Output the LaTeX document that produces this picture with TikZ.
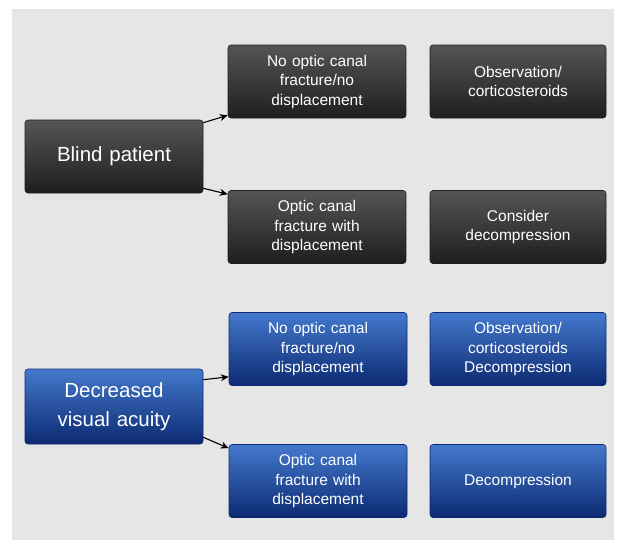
\documentclass[tikz,border=0pt]{standalone}
\usepackage{fontspec}
\setmainfont{Liberation Sans}
\usetikzlibrary{arrows.meta}
\definecolor{bg}{HTML}{E6E6E6}
\definecolor{dtop}{HTML}{555555}
\definecolor{dbot}{HTML}{1E1E1E}
\definecolor{btop}{HTML}{4479CC}
\definecolor{bbot}{HTML}{0C2A72}
\tikzset{
  box/.style={rounded corners=3pt, minimum width=178pt, minimum height=73pt,
    text width=160pt, align=center, text=white, inner sep=0pt,
    font=\fontsize{15.5}{19.5}\selectfont},
  darkbox/.style={box, top color=dtop, bottom color=dbot, draw=dbot, line width=0.6pt},
  bluebox/.style={box, top color=btop, bottom color=bbot, draw=bbot, line width=0.6pt},
  bigtext/.style={font=\fontsize{20.5}{28.5}\selectfont},
  arr/.style={-{Stealth[length=8pt,width=7pt]}, line width=1.1pt, black}
}
\begin{document}
\begin{tikzpicture}[x=1pt,y=-1pt]
\fill[white] (0,0) rectangle (620,550);
\useasboundingbox (0,0) rectangle (620,550);
\fill[bg] (12,9) rectangle (614,540);

\node[darkbox, bigtext] (blind) at (114,156.5) {Blind patient};
\node[darkbox] (m1) at (317,81.5) {No optic canal\\fracture/no\\displacement};
\node[darkbox, minimum width=176pt] (r1) at (518,81.5) {Observation/\\corticosteroids};
\node[darkbox] (m2) at (317,227) {Optic canal\\fracture with\\displacement};
\node[darkbox, minimum width=176pt] (r2) at (518,227) {Consider\\decompression};

\node[bluebox, bigtext, minimum height=75pt] (dec) at (114,406.5) {Decreased\\visual acuity};
\node[bluebox] (bm1) at (318,349) {No optic canal\\fracture/no\\displacement};
\node[bluebox, minimum width=176pt] (br1) at (518,349) {Observation/\\corticosteroids\\Decompression};
\node[bluebox] (bm2) at (318,481) {Optic canal\\fracture with\\displacement};
\node[bluebox, minimum width=176pt] (br2) at (518,481) {Decompression};

\draw[arr] ([yshift=-3pt]blind.north east) -- ([yshift=3pt]m1.south west);
\draw[arr] ([yshift=5pt]blind.south east) -- ([yshift=-4pt]m2.north west);
\draw[arr] ([yshift=-11pt]dec.north east) -- ([yshift=9pt]bm1.south west);
\draw[arr] ([yshift=7pt]dec.south east) -- ([yshift=-4pt]bm2.north west);
\end{tikzpicture}
\end{document}
